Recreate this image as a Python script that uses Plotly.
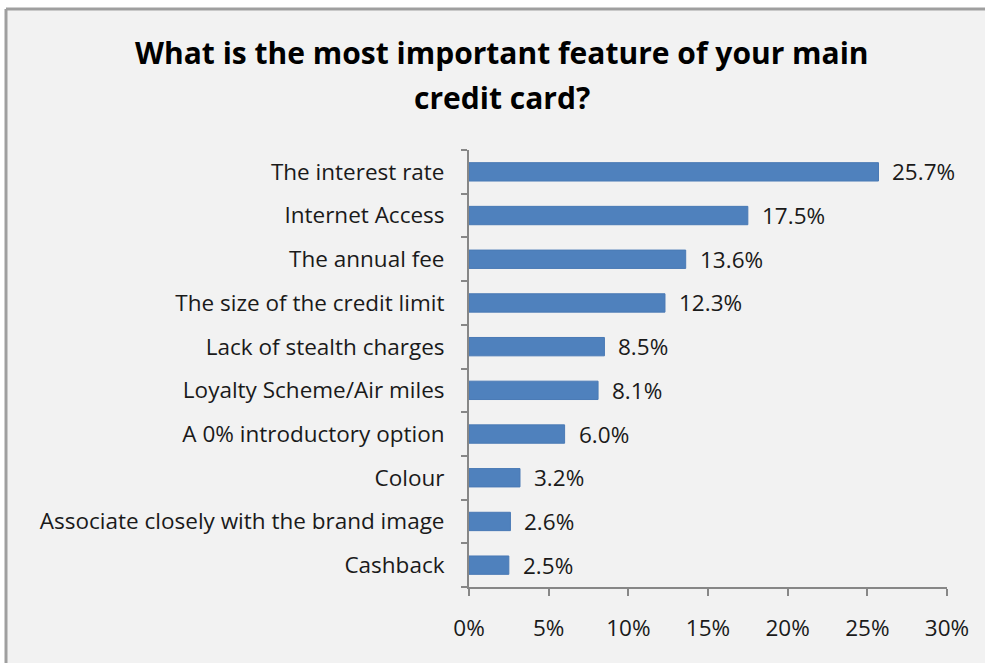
import plotly.graph_objects as go

# Survey answers, listed top to bottom as shown on the chart
features = [
    "The interest rate",
    "Internet Access",
    "The annual fee",
    "The size of the credit limit",
    "Lack of stealth charges",
    "Loyalty Scheme/Air miles",
    "A 0% introductory option",
    "Colour",
    "Associate closely with the brand image",
    "Cashback",
]
shares = [25.7, 17.5, 13.6, 12.3, 8.5, 8.1, 6.0, 3.2, 2.6, 2.5]
x_ticks = [0, 5, 10, 15, 20, 25, 30]
x_tick_labels = [f"{v}%" for v in x_ticks]
title_lines = ["What is the most important feature of your main", "credit card?"]

FONT = "Open Sans"
TEXT_SIZE = 22.5
AXIS_GREY = "#878787"
FRAME_GREY = "#9f9f9f"
BAR_BLUE = "#4f81bd"

W, H = 985, 663
M_L, M_R, M_T, M_B = 469, 38, 150, 76
PLOT_W = W - M_L - M_R
PLOT_H = H - M_T - M_B


def px_to_paper_x(px):
    return (px - M_L) / PLOT_W


def px_to_paper_y(py):
    return (H - M_B - py) / PLOT_H


fig = go.Figure(
    go.Bar(
        x=shares,
        y=features,
        orientation="h",
        marker=dict(color=BAR_BLUE, line=dict(color="#4a7ab5", width=1)),
        hoverinfo="skip",
    )
)

# Value labels to the right of each bar
for feat, val in zip(features, shares):
    fig.add_annotation(
        x=val, y=feat, xref="x", yref="y",
        text=f"{val:.1f}%", showarrow=False,
        xanchor="left", yanchor="middle", xshift=12,
        font=dict(family=FONT, size=TEXT_SIZE, color="#1a1a1a"),
    )

# Two-line bold heading
for i, line in enumerate(title_lines):
    fig.add_annotation(
        x=px_to_paper_x(502), y=px_to_paper_y(52 + 45 * i),
        xref="paper", yref="paper",
        text=f"<b>{line}</b>", showarrow=False,
        xanchor="center", yanchor="middle",
        font=dict(family=FONT, size=30, color="#000000"),
    )

fig.update_layout(
    width=W, height=H,
    margin=dict(l=M_L, r=M_R, t=M_T, b=M_B),
    paper_bgcolor="white",
    plot_bgcolor="rgba(0,0,0,0)",
    showlegend=False,
    bargap=0.58,
    font=dict(family=FONT, size=TEXT_SIZE, color="#1a1a1a"),
    xaxis=dict(
        range=[0, 30], tickvals=x_ticks, ticktext=x_tick_labels,
        showgrid=False, zeroline=False,
        showline=True, linecolor=AXIS_GREY, linewidth=2,
        ticks="outside", ticklen=7, tickwidth=2, tickcolor=AXIS_GREY,
        ticklabelstandoff=13,
        tickfont=dict(family=FONT, size=TEXT_SIZE, color="#1a1a1a"),
    ),
    yaxis=dict(
        categoryorder="array", categoryarray=features[::-1],
        autorange=False, range=[-0.5, len(features) - 0.5],
        showgrid=False, zeroline=False,
        showline=True, linecolor=AXIS_GREY, linewidth=2,
        ticks="outside", tickson="boundaries", ticklen=6, tickwidth=2,
        tickcolor=AXIS_GREY, ticklabelstandoff=18,
        tickfont=dict(family=FONT, size=TEXT_SIZE, color="#1a1a1a"),
    ),
)

# Light grey chart area, running off the right and bottom edges
fig.add_shape(
    type="rect", xref="paper", yref="paper", layer="below",
    x0=px_to_paper_x(6), x1=px_to_paper_x(1020),
    y0=px_to_paper_y(690), y1=px_to_paper_y(9),
    fillcolor="#f2f2f2", line=dict(width=0),
)
# Frame edges: top and left
fig.add_shape(
    type="line", xref="paper", yref="paper", layer="below",
    x0=px_to_paper_x(6), x1=px_to_paper_x(1020),
    y0=px_to_paper_y(9), y1=px_to_paper_y(9),
    line=dict(color=FRAME_GREY, width=3),
)
fig.add_shape(
    type="line", xref="paper", yref="paper", layer="below",
    x0=px_to_paper_x(6), x1=px_to_paper_x(6),
    y0=px_to_paper_y(9), y1=px_to_paper_y(690),
    line=dict(color=FRAME_GREY, width=3),
)

fig.write_html("out.html")
